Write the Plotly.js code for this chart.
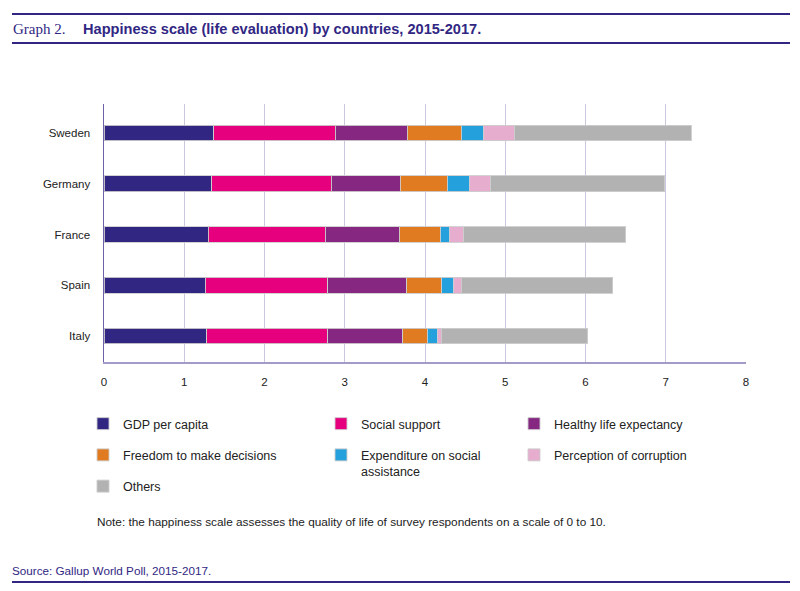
<!DOCTYPE html>
<html>
<head>
<meta charset="utf-8">
<script src="https://cdn.plot.ly/plotly-3.0.1.min.js"></script>
<style>
  body { margin: 0; background: #fff; }
  #chart { width: 800px; height: 591px; }
</style>
</head>
<body>
<div id="chart"></div>
<script>
let countries = ['Sweden', 'Germany', 'France', 'Spain', 'Italy']

let gdp = [1.37, 1.34, 1.30, 1.26, 1.28]
let social = [1.51, 1.49, 1.46, 1.53, 1.51]
let health = [0.90, 0.86, 0.92, 0.98, 0.93]
let freedom = [0.67, 0.59, 0.51, 0.44, 0.31]
let expenditure = [0.28, 0.27, 0.12, 0.15, 0.12]
let corruption = [0.38, 0.27, 0.17, 0.09, 0.05]
let others = [2.21, 2.17, 2.02, 1.89, 1.83]

let xTicks = [0, 1, 2, 3, 4, 5, 6, 7, 8]

let purple = '#312783'
let font = 'Liberation Sans, Arial, sans-serif'

// pixel helpers for decorations around the plot area
let L = 104, R = 746, T = 104, B = 362
let px = x => (x - L) / (R - L)
let py = y => (B - y) / (B - T)

function series(name, values, color, legend) {
    return {
        type: 'bar',
        orientation: 'h',
        name: name,
        x: values,
        y: countries,
        width: 0.31,
        marker: { color: color, line: { color: 'rgba(205,205,205,0.9)', width: 1 } },
        legend: legend,
        legendgroup: name,
        hoverinfo: 'x+name'
    }
}

let traces = [
    series('GDP per capita', gdp, '#312783', 'legend'),
    series('Social support', social, '#E6007E', 'legend2'),
    series('Healthy life expectancy', health, '#862781', 'legend3'),
    series('Freedom to make decisions', freedom, '#E07B22', 'legend'),
    series('Expenditure on social<br>assistance', expenditure, '#24A0DC', 'legend2'),
    series('Perception of corruption', corruption, '#E6ADCE', 'legend3'),
    series('Others', others, '#B2B2B2', 'legend')
]

let legendBase = {
    orientation: 'v',
    yanchor: 'top',
    xanchor: 'left',
    y: py(409),
    font: { family: font, size: 12.5, color: '#222' },
    bgcolor: 'rgba(0,0,0,0)',
    tracegroupgap: 12,
    valign: 'top',
    traceorder: 'grouped'
}

let layout = {
    width: 800,
    height: 591,
    margin: { l: L, r: 800 - R, t: T, b: 591 - B },
    barmode: 'stack',
    paper_bgcolor: '#fff',
    plot_bgcolor: '#fff',
    font: { family: font, size: 12, color: '#222' },
    title: {
        text: '<b>Happiness scale (life evaluation) by countries, 2015-2017.</b>',
        x: 83 / 800, xanchor: 'left',
        y: 1 - 29 / 591, yanchor: 'middle',
        font: { family: font, size: 14.6, color: purple }
    },
    xaxis: {
        range: [0, 8],
        tickvals: xTicks,
        showgrid: true,
        gridcolor: '#CCC7DF',
        gridwidth: 1,
        zeroline: false,
        showline: true,
        linecolor: '#A29BC8',
        linewidth: 2,
        ticks: '',
        ticklabelstandoff: 8,
        tickfont: { family: font, size: 11.5, color: '#222' },
        fixedrange: true
    },
    yaxis: {
        type: 'category',
        categoryorder: 'array',
        categoryarray: countries,
        range: [4.51, -0.57],
        showgrid: false,
        zeroline: false,
        showline: true,
        linecolor: '#6B62A8',
        linewidth: 1.5,
        ticks: '',
        ticklabelstandoff: 10,
        tickfont: { family: font, size: 11.5, color: '#222' },
        fixedrange: true
    },
    legend: Object.assign({}, legendBase, { x: px(83) }),
    legend2: Object.assign({}, legendBase, { x: px(321) }),
    legend3: Object.assign({}, legendBase, { x: px(514) }),
    showlegend: true,
    shapes: [
        { type: 'line', xref: 'paper', yref: 'paper', x0: px(12), x1: px(790), y0: py(14), y1: py(14), line: { color: purple, width: 2.2 } },
        { type: 'line', xref: 'paper', yref: 'paper', x0: px(12), x1: px(790), y0: py(43), y1: py(43), line: { color: purple, width: 2.2 } },
        { type: 'line', xref: 'paper', yref: 'paper', x0: px(12), x1: px(790), y0: py(582), y1: py(582), line: { color: purple, width: 2.2 } }
    ],
    annotations: [
        {
            text: 'Graph 2.', xref: 'paper', yref: 'paper', x: px(11), y: py(29),
            xanchor: 'left', yanchor: 'middle', showarrow: false,
            font: { family: 'Liberation Serif, serif', size: 15, color: purple }
        },
        {
            text: 'Note: the happiness scale assesses the quality of life of survey respondents on a scale of 0 to 10.',
            xref: 'paper', yref: 'paper', x: px(95), y: py(522),
            xanchor: 'left', yanchor: 'middle', showarrow: false,
            font: { family: font, size: 11.8, color: '#222' }
        },
        {
            text: 'Source: Gallup World Poll, 2015-2017.',
            xref: 'paper', yref: 'paper', x: px(10), y: py(570),
            xanchor: 'left', yanchor: 'middle', showarrow: false,
            font: { family: font, size: 11.7, color: purple }
        }
    ]
}

Plotly.newPlot('chart', traces, layout, { displayModeBar: false, staticPlot: true })
</script>
</body>
</html>
